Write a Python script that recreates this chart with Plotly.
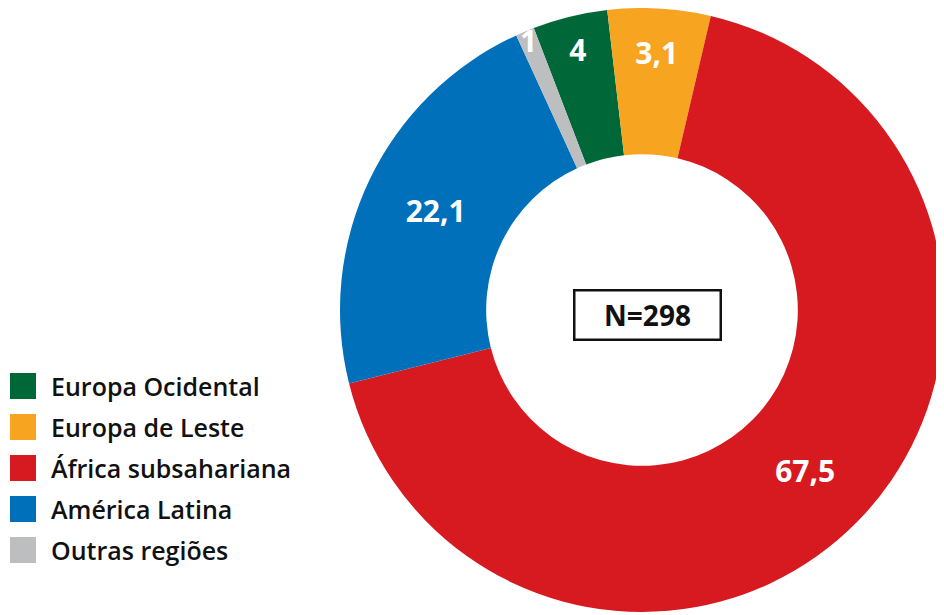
import plotly.graph_objects as go

# Regions, drawn slice sizes and printed labels
regions = ["Europa Ocidental", "Europa de Leste", "África subsahariana", "América Latina", "Outras regiões"]
slice_values = [4, 5.5, 67.5, 22.1, 1]
label_text = ["4", "3,1", "67,5", "22,1", "1"]
colors = ["#006838", "#F7A520", "#D71920", "#0070BA", "#BCBEC0"]
sample_label = "N=298"

# page body has an 8px margin, so the figure is drawn 8px smaller
OFF = 8
W, H = 944 - OFF, 615 - OFF
dom_x = [(340 - OFF) / W, 1.0]
dom_y = [(615 - 612) / H, 1.0]

fig = go.Figure(go.Pie(
    labels=regions,
    values=slice_values,
    text=label_text,
    textinfo="text",
    textposition="inside",
    insidetextorientation="horizontal",
    textfont=dict(family="Open Sans", size=30, color="white", weight="bold"),
    marker=dict(colors=colors, line=dict(width=0)),
    hole=0.516,
    sort=False,
    direction="clockwise",
    rotation=-21,
    domain=dict(x=dom_x, y=dom_y),
    showlegend=False,
    hoverinfo="skip",
))

# centre box
fig.add_annotation(
    x=sum(dom_x) / 2, y=sum(dom_y) / 2, xref="paper", yref="paper",
    xanchor="center", yanchor="middle",
    xshift=5, yshift=-5,
    text=f"<b>{sample_label}</b>", showarrow=False,
    font=dict(family="Open Sans", size=28, color="#111111"),
    width=142, height=45, borderpad=1,
    bordercolor="#111111", borderwidth=2.5, bgcolor="white",
)

# legend drawn as squares + labels
for i, (name, col) in enumerate(zip(regions, colors)):
    top = 373 + i * 41 - OFF
    fig.add_shape(type="rect", xref="paper", yref="paper",
                  x0=(10 - OFF) / W, x1=(36 - OFF) / W,
                  y0=1 - (top + 26) / H, y1=1 - top / H,
                  fillcolor=col, line=dict(width=0))
    fig.add_annotation(x=(49 - OFF) / W, y=1 - (top + 13) / H, xref="paper", yref="paper",
                       xanchor="left", yanchor="middle", showarrow=False,
                       text=name,
                       font=dict(family="Open Sans", size=25, color="#111111", weight=600))

fig.update_layout(
    width=W, height=H,
    margin=dict(l=0, r=0, t=0, b=0),
    paper_bgcolor="white", plot_bgcolor="white",
    uniformtext=dict(minsize=30, mode="show"),
)

fig.write_html("out.html")
